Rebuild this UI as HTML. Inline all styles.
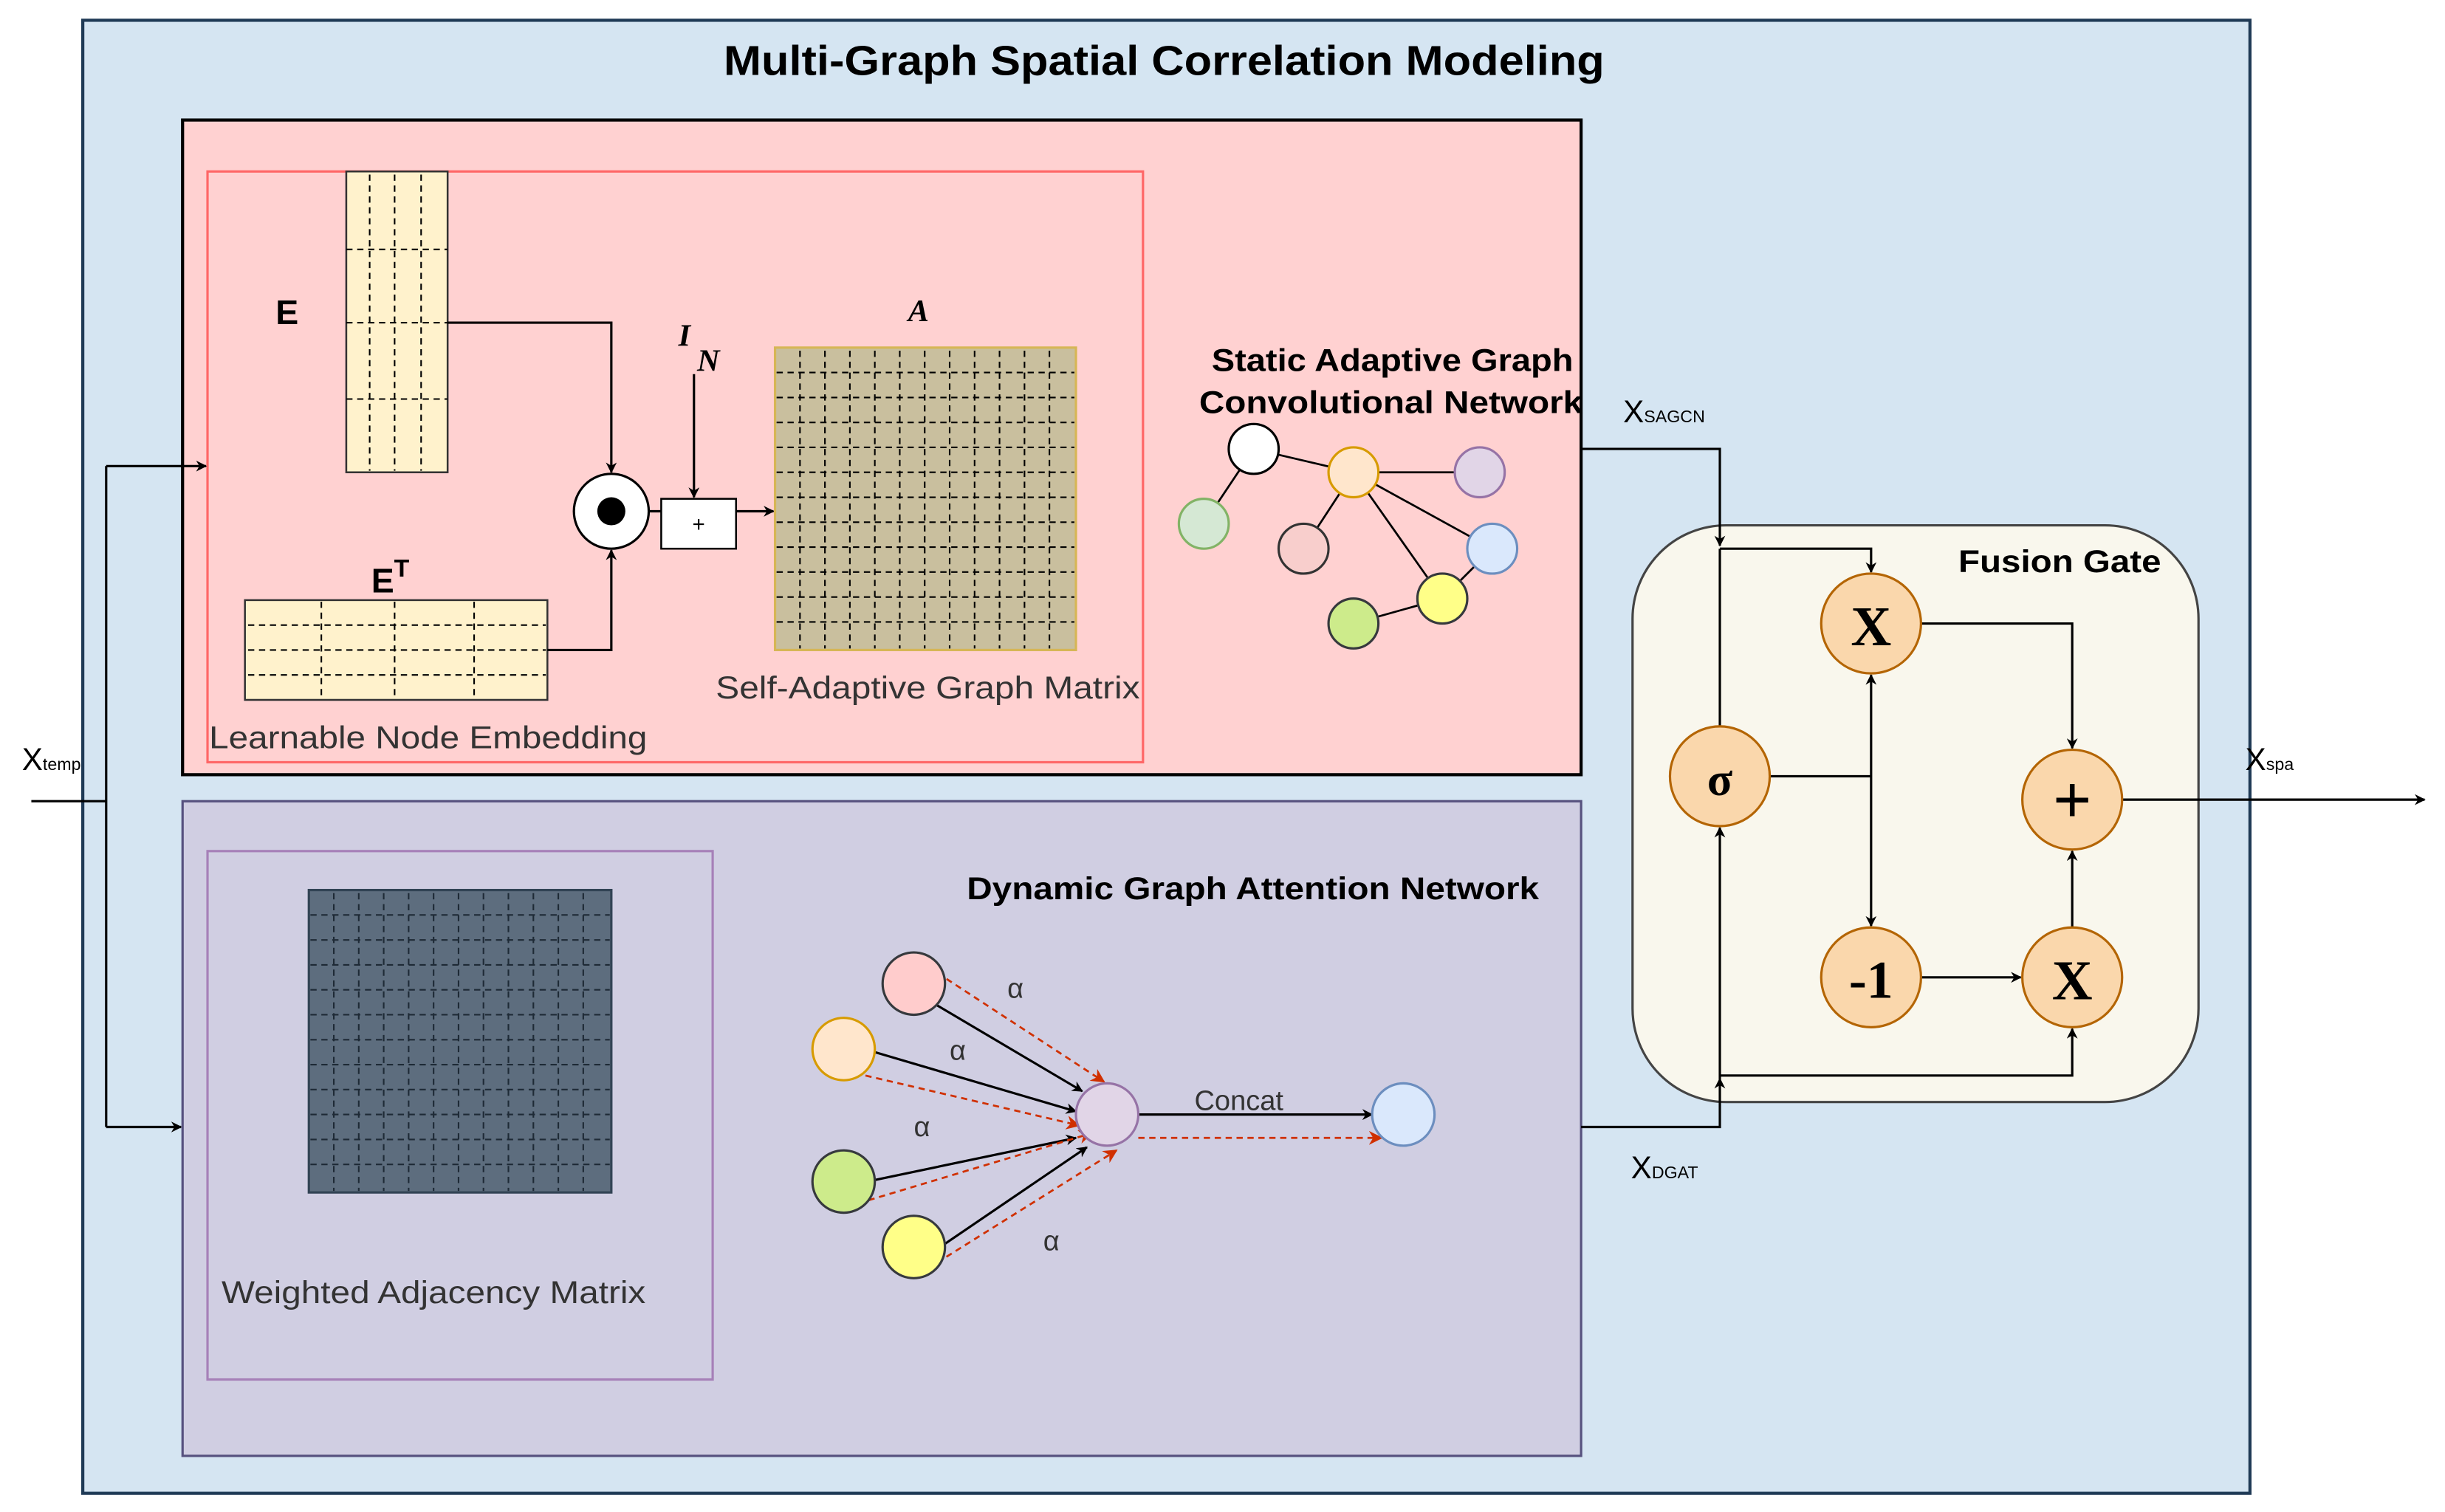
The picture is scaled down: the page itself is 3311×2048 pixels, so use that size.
<!DOCTYPE html>
<html><head><meta charset="utf-8"><style>html,body{margin:0;padding:0;background:#fff}svg{display:block}</style></head>
<body>
<svg width="3311" height="2048" viewBox="0 0 1568 970" xmlns="http://www.w3.org/2000/svg" font-family="Liberation Sans, sans-serif">
<defs>
<marker id="ar" viewBox="0 0 10 10" refX="9" refY="5" markerWidth="7" markerHeight="7" orient="auto" markerUnits="userSpaceOnUse"><path d="M0,0 L10,5 L0,10 L3,5 z" fill="#000"/></marker>
<marker id="rr" viewBox="0 0 10 10" refX="9" refY="5" markerWidth="9" markerHeight="9" orient="auto" markerUnits="userSpaceOnUse"><path d="M0,0 L10,5 L0,10 L3,5 z" fill="#d03000"/></marker>
</defs>
<rect x="53" y="13" width="1390" height="945" fill="#d5e5f2" stroke="#1f3a56" stroke-width="2"/>
<text x="464" y="48" font-size="27" font-weight="bold" textLength="565" lengthAdjust="spacingAndGlyphs">Multi-Graph Spatial Correlation Modeling</text>

<rect x="117" y="77" width="897" height="420" fill="#ffd1d1" stroke="#000" stroke-width="2"/>
<rect x="133" y="110" width="600" height="379" fill="none" stroke="#ff6666" stroke-width="1.5"/>
<rect x="222" y="110" width="65" height="193" fill="#fff2cc" stroke="#333" stroke-width="1.2"/>
<g stroke="#000" stroke-dasharray="4,3" stroke-width="1">
<line x1="237" y1="112" x2="237" y2="302"/><line x1="253" y1="112" x2="253" y2="302"/><line x1="270" y1="112" x2="270" y2="302"/>
<line x1="222" y1="160" x2="287" y2="160"/><line x1="222" y1="207" x2="287" y2="207"/><line x1="222" y1="256" x2="287" y2="256"/>
</g>
<text x="184" y="208" font-size="22" font-weight="bold" text-anchor="middle">E</text>
<rect x="157" y="385" width="194" height="64" fill="#fff2cc" stroke="#333" stroke-width="1.2"/>
<g stroke="#000" stroke-dasharray="4,3" stroke-width="1">
<line x1="159" y1="401" x2="350" y2="401"/><line x1="159" y1="417" x2="350" y2="417"/><line x1="159" y1="433" x2="350" y2="433"/>
<line x1="206" y1="386" x2="206" y2="448"/><line x1="253" y1="386" x2="253" y2="448"/><line x1="304" y1="386" x2="304" y2="448"/>
</g>
<text x="238" y="380" font-size="22" font-weight="bold">E<tspan font-size="16" dy="-10">T</tspan></text>
<polyline points="287,207 392,207 392,303" fill="none" stroke="#000" stroke-width="1.5" marker-end="url(#ar)"/>
<polyline points="351,417 392,417 392,353" fill="none" stroke="#000" stroke-width="1.5" marker-end="url(#ar)"/>
<circle cx="392" cy="328" r="24" fill="#fff" stroke="#000" stroke-width="1.5"/>
<circle cx="392" cy="328" r="9" fill="#000"/>
<line x1="416" y1="328" x2="424" y2="328" stroke="#000" stroke-width="1.5"/>
<rect x="424" y="320" width="48" height="32" fill="#fff" stroke="#000" stroke-width="1.2"/>
<text x="448" y="341" font-size="14" text-anchor="middle">+</text>
<text x="435" y="222" font-size="20" font-style="italic" font-weight="bold" font-family="Liberation Serif, serif">I</text>
<text x="447" y="238" font-size="20" font-style="italic" font-weight="bold" font-family="Liberation Serif, serif">N</text>
<line x1="445" y1="240" x2="445" y2="319" stroke="#000" stroke-width="1.5" marker-end="url(#ar)"/>
<line x1="472" y1="328" x2="496" y2="328" stroke="#000" stroke-width="1.5" marker-end="url(#ar)"/>
<text x="589" y="206" font-size="20" font-style="italic" font-weight="bold" font-family="Liberation Serif, serif" text-anchor="middle">A</text>
<rect x="497" y="223" width="193" height="194" fill="#c9bf9e" stroke="#d6b656" stroke-width="1.5"/>
<g stroke="#000" stroke-dasharray="4,3" stroke-width="1">
<line x1="513" y1="225" x2="513" y2="416"/><line x1="529" y1="225" x2="529" y2="416"/><line x1="545" y1="225" x2="545" y2="416"/><line x1="561" y1="225" x2="561" y2="416"/><line x1="577" y1="225" x2="577" y2="416"/><line x1="593" y1="225" x2="593" y2="416"/><line x1="609" y1="225" x2="609" y2="416"/><line x1="625" y1="225" x2="625" y2="416"/><line x1="641" y1="225" x2="641" y2="416"/><line x1="657" y1="225" x2="657" y2="416"/><line x1="673" y1="225" x2="673" y2="416"/>
<line x1="498" y1="239" x2="689" y2="239"/><line x1="498" y1="255" x2="689" y2="255"/><line x1="498" y1="271" x2="689" y2="271"/><line x1="498" y1="287" x2="689" y2="287"/><line x1="498" y1="303" x2="689" y2="303"/><line x1="498" y1="319" x2="689" y2="319"/><line x1="498" y1="335" x2="689" y2="335"/><line x1="498" y1="351" x2="689" y2="351"/><line x1="498" y1="367" x2="689" y2="367"/><line x1="498" y1="383" x2="689" y2="383"/><line x1="498" y1="399" x2="689" y2="399"/>
</g>
<text x="459" y="448" font-size="20" fill="#333" textLength="272" lengthAdjust="spacingAndGlyphs">Self-Adaptive Graph Matrix</text>
<text x="134" y="480" font-size="20" fill="#333" textLength="281" lengthAdjust="spacingAndGlyphs">Learnable Node Embedding</text>
<text x="777" y="238" font-size="20" font-weight="bold" textLength="232" lengthAdjust="spacingAndGlyphs">Static Adaptive Graph</text>
<text x="769" y="265" font-size="20" font-weight="bold" textLength="246" lengthAdjust="spacingAndGlyphs">Convolutional Network</text>
<g stroke="#000" stroke-width="1.3">
<line x1="804" y1="288" x2="868" y2="303"/><line x1="804" y1="288" x2="772" y2="336"/>
<line x1="868" y1="303" x2="949" y2="303"/><line x1="868" y1="303" x2="957" y2="352"/><line x1="868" y1="303" x2="925" y2="384"/><line x1="868" y1="303" x2="836" y2="352"/>
<line x1="925" y1="384" x2="957" y2="352"/><line x1="925" y1="384" x2="868" y2="400"/>
</g>
<g stroke-width="1.5">
<circle cx="804" cy="288" r="16" fill="#fff" stroke="#000"/>
<circle cx="868" cy="303" r="16" fill="#ffe6cc" stroke="#d79b00"/>
<circle cx="949" cy="303" r="16" fill="#e1d5e7" stroke="#9673a6"/>
<circle cx="772" cy="336" r="16" fill="#d5e8d4" stroke="#82b366"/>
<circle cx="836" cy="352" r="16" fill="#f8cecc" stroke="#333"/>
<circle cx="957" cy="352" r="16" fill="#dae8fc" stroke="#6c8ebf"/>
<circle cx="925" cy="384" r="16" fill="#ffff88" stroke="#36393d"/>
<circle cx="868" cy="400" r="16" fill="#cdeb8b" stroke="#36393d"/>
</g>

<rect x="117" y="514" width="897" height="420" fill="#d0cee2" stroke="#56517e" stroke-width="1.5"/>
<rect x="133" y="546" width="324" height="339" fill="none" stroke="#a680b8" stroke-width="1.5"/>
<rect x="198" y="571" width="194" height="194" fill="#5d6d7e" stroke="#314354" stroke-width="1.5"/>
<g stroke="#1e2a36" stroke-dasharray="4,3" stroke-width="1">
<line x1="214" y1="573" x2="214" y2="764"/><line x1="230" y1="573" x2="230" y2="764"/><line x1="246" y1="573" x2="246" y2="764"/><line x1="262" y1="573" x2="262" y2="764"/><line x1="278" y1="573" x2="278" y2="764"/><line x1="294" y1="573" x2="294" y2="764"/><line x1="310" y1="573" x2="310" y2="764"/><line x1="326" y1="573" x2="326" y2="764"/><line x1="342" y1="573" x2="342" y2="764"/><line x1="358" y1="573" x2="358" y2="764"/><line x1="374" y1="573" x2="374" y2="764"/>
<line x1="199" y1="587" x2="391" y2="587"/><line x1="199" y1="603" x2="391" y2="603"/><line x1="199" y1="619" x2="391" y2="619"/><line x1="199" y1="635" x2="391" y2="635"/><line x1="199" y1="651" x2="391" y2="651"/><line x1="199" y1="667" x2="391" y2="667"/><line x1="199" y1="683" x2="391" y2="683"/><line x1="199" y1="699" x2="391" y2="699"/><line x1="199" y1="715" x2="391" y2="715"/><line x1="199" y1="731" x2="391" y2="731"/><line x1="199" y1="747" x2="391" y2="747"/>
</g>
<text x="142" y="836" font-size="20" fill="#333" textLength="272" lengthAdjust="spacingAndGlyphs">Weighted Adjacency Matrix</text>
<text x="620" y="577" font-size="20" font-weight="bold" textLength="367" lengthAdjust="spacingAndGlyphs">Dynamic Graph Attention Network</text>
<g stroke="#000" stroke-width="1.5" marker-end="url(#ar)">
<line x1="601" y1="645" x2="694" y2="700"/><line x1="561" y1="675" x2="690" y2="713"/><line x1="561" y1="757" x2="690" y2="730"/><line x1="603" y1="800" x2="697" y2="736"/>
<line x1="730" y1="715" x2="880" y2="715"/>
</g>
<g stroke="#d03000" stroke-width="1.3" stroke-dasharray="4,3" marker-end="url(#rr)">
<line x1="607" y1="628" x2="708" y2="694"/><line x1="555" y1="690" x2="692" y2="722"/><line x1="557" y1="770" x2="700" y2="727"/><line x1="601" y1="810" x2="716" y2="738"/>
<line x1="730" y1="730" x2="886" y2="730"/>
</g>
<g stroke-width="1.5">
<circle cx="586" cy="631" r="20" fill="#ffcccc" stroke="#36393d"/>
<circle cx="541" cy="673" r="20" fill="#ffe6cc" stroke="#d79b00"/>
<circle cx="541" cy="758" r="20" fill="#cdeb8b" stroke="#36393d"/>
<circle cx="586" cy="800" r="20" fill="#ffff88" stroke="#36393d"/>
<circle cx="710" cy="715" r="20" fill="#e1d5e7" stroke="#9673a6"/>
<circle cx="900" cy="715" r="20" fill="#dae8fc" stroke="#6c8ebf"/>
</g>
<g font-size="18" fill="#333">
<text x="646" y="640">α</text><text x="609" y="680">α</text><text x="586" y="729">α</text><text x="669" y="802">α</text>
<text x="766" y="712">Concat</text>
</g>

<rect x="1047" y="337" width="363" height="370" rx="60" fill="#f9f7ed" stroke="#444" stroke-width="1.5"/>
<text x="1256" y="367" font-size="20" font-weight="bold" textLength="130" lengthAdjust="spacingAndGlyphs">Fusion Gate</text>
<g fill="none" stroke="#000" stroke-width="1.5">
<polyline points="1014,288 1103,288 1103,350" marker-end="url(#ar)"/>
<line x1="1103" y1="352" x2="1103" y2="466"/>
<polyline points="1103,352 1200,352 1200,367" marker-end="url(#ar)"/>
<line x1="1135" y1="498" x2="1200" y2="498"/>
<line x1="1200" y1="498" x2="1200" y2="433" marker-end="url(#ar)"/>
<line x1="1200" y1="498" x2="1200" y2="594" marker-end="url(#ar)"/>
<polyline points="1232,400 1329,400 1329,480" marker-end="url(#ar)"/>
<line x1="1232" y1="627" x2="1296" y2="627" marker-end="url(#ar)"/>
<line x1="1329" y1="595" x2="1329" y2="546" marker-end="url(#ar)"/>
<line x1="1361" y1="513" x2="1555" y2="513" marker-end="url(#ar)"/>
<polyline points="1014,723 1103,723 1103,692" marker-end="url(#ar)"/>
<line x1="1103" y1="692" x2="1103" y2="531" marker-end="url(#ar)"/>
<polyline points="1103,690 1329,690 1329,660" marker-end="url(#ar)"/>
<line x1="20" y1="514" x2="68" y2="514"/>
<line x1="68" y1="299" x2="68" y2="723"/>
<line x1="68" y1="299" x2="132" y2="299" marker-end="url(#ar)"/>
<line x1="68" y1="723" x2="116" y2="723" marker-end="url(#ar)"/>
</g>
<g fill="#fad7ac" stroke="#b46504" stroke-width="1.5">
<circle cx="1103" cy="498" r="32"/><circle cx="1200" cy="400" r="32"/><circle cx="1329" cy="513" r="32"/><circle cx="1200" cy="627" r="32"/><circle cx="1329" cy="627" r="32"/>
</g>
<g font-family="Liberation Serif, serif" font-weight="bold" text-anchor="middle">
<text x="1103" y="510" font-size="30">σ</text>
<text x="1200" y="414" font-size="36">X</text>
<text x="1329" y="528" font-size="44">+</text>
<text x="1200" y="640" font-size="34">-1</text>
<text x="1329" y="641" font-size="36">X</text>
</g>
<g font-size="20">
<text x="1041" y="271">X<tspan font-size="11">SAGCN</tspan></text>
<text x="1046" y="756">X<tspan font-size="11">DGAT</tspan></text>
<text x="1440" y="494">X<tspan font-size="11">spa</tspan></text>
<text x="14" y="494">X<tspan font-size="11">temp</tspan></text>
</g>
</svg>
</body></html>
